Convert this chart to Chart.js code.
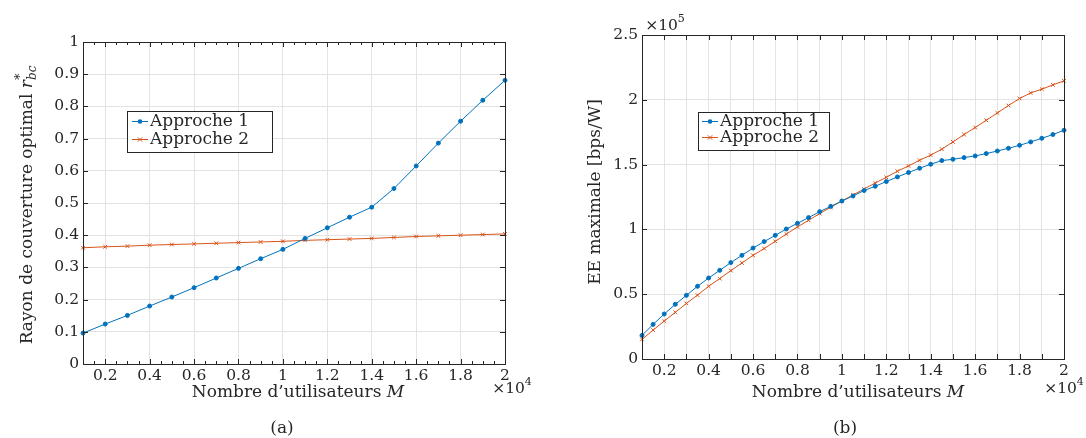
<!DOCTYPE html>
<html lang="fr">
<head>
<meta charset="UTF-8">
<title>Rayon de couverture optimal et EE maximale</title>
<script src="https://cdn.jsdelivr.net/npm/chart.js"></script>
<style>
  body { margin: 0; background: #fff; }
  #wrap { position: relative; width: 1086px; height: 438px; }
  canvas { position: absolute; top: 0; }
  #chartA { left: 0; }
  #chartB { left: 543px; }
</style>
</head>
<body>
<div id="wrap">
  <canvas id="chartA" width="543" height="438"></canvas>
  <canvas id="chartB" width="543" height="438"></canvas>
</div>
<script>
const BLUE = '#0072BD', ORANGE = '#D95319', INK = '#262626', GRID = '#e3e3e3';
const FONT = '"DejaVu Serif", serif';

const seriesNames = ['Approche 1', 'Approche 2'];

// (a) nombre d'utilisateurs (x10^4) -> rayon optimal
const usersA = [0.1, 0.2, 0.3, 0.4, 0.5, 0.6, 0.7, 0.8, 0.9, 1.0,
                1.1, 1.2, 1.3, 1.4, 1.5, 1.6, 1.7, 1.8, 1.9, 2.0];
const radius1 = [0.096, 0.124, 0.151, 0.180, 0.208, 0.237, 0.267, 0.297, 0.327, 0.356,
                 0.390, 0.423, 0.456, 0.487, 0.545, 0.615, 0.686, 0.754, 0.819, 0.881];
const radius2 = [0.361, 0.364, 0.366, 0.369, 0.371, 0.373, 0.375, 0.377, 0.379, 0.381,
                 0.384, 0.386, 0.388, 0.390, 0.393, 0.396, 0.398, 0.400, 0.402, 0.404];
const xTicksA = [0.2, 0.4, 0.6, 0.8, 1, 1.2, 1.4, 1.6, 1.8, 2];
const yTicksA = [0, 0.1, 0.2, 0.3, 0.4, 0.5, 0.6, 0.7, 0.8, 0.9, 1];

// (b) nombre d'utilisateurs (x10^4) -> EE maximale (x10^5 bps/W)
const usersB = [0.1, 0.15, 0.2, 0.25, 0.3, 0.35, 0.4, 0.45, 0.5, 0.55,
                0.6, 0.65, 0.7, 0.75, 0.8, 0.85, 0.9, 0.95, 1.0, 1.05,
                1.1, 1.15, 1.2, 1.25, 1.3, 1.35, 1.4, 1.45, 1.5, 1.55,
                1.6, 1.65, 1.7, 1.75, 1.8, 1.85, 1.9, 1.95, 2.0];
const ee1 = [0.182, 0.267, 0.347, 0.422, 0.491, 0.561, 0.625, 0.684, 0.744, 0.800,
             0.856, 0.906, 0.954, 1.003, 1.047, 1.091, 1.137, 1.178, 1.219, 1.258,
             1.300, 1.333, 1.369, 1.405, 1.439, 1.472, 1.503, 1.531, 1.541, 1.554,
             1.567, 1.585, 1.605, 1.626, 1.649, 1.675, 1.703, 1.732, 1.765];
const ee2 = [0.151, 0.223, 0.293, 0.360, 0.429, 0.493, 0.561, 0.620, 0.682, 0.741,
             0.800, 0.852, 0.908, 0.964, 1.019, 1.070, 1.122, 1.171, 1.219, 1.266,
             1.312, 1.358, 1.402, 1.449, 1.490, 1.534, 1.573, 1.619, 1.675, 1.732,
             1.786, 1.842, 1.899, 1.956, 2.010, 2.053, 2.082, 2.115, 2.146];
const xTicksB = [0.2, 0.3, 0.4, 0.5, 0.6, 0.7, 0.8, 0.9, 1, 1.1,
                 1.2, 1.3, 1.4, 1.5, 1.6, 1.7, 1.8, 1.9, 2];
const xLabelsB = ['0.2', '', '0.4', '', '0.6', '', '0.8', '', '1', '',
                  '1.2', '', '1.4', '', '1.6', '', '1.8', '', '2'];
const yTicksB = [0, 0.5, 1, 1.5, 2, 2.5];

function drawRich(ctx, parts, cx, cy, rot) {
  ctx.save();
  ctx.translate(cx, cy);
  if (rot) ctx.rotate(-Math.PI / 2);
  let total = 0;
  for (const p of parts) {
    ctx.font = p.font;
    p.w = ctx.measureText(p.text).width;
    if (!p.hold) total += p.w;
  }
  let x = -total / 2;
  ctx.textAlign = 'left';
  ctx.textBaseline = 'alphabetic';
  ctx.fillStyle = INK;
  for (const p of parts) {
    ctx.font = p.font;
    ctx.fillText(p.text, x, p.dy || 0);
    if (!p.hold) x += p.w;
  }
  ctx.restore();
}

function marker(ctx, style, color, x, y) {
  ctx.save();
  ctx.strokeStyle = color;
  ctx.fillStyle = color;
  ctx.lineWidth = 1;
  if (style === 'circle') {
    ctx.beginPath();
    ctx.arc(x, y, 2.3, 0, Math.PI * 2);
    ctx.fill();
  } else {
    ctx.beginPath();
    ctx.moveTo(x - 2.2, y - 2.2); ctx.lineTo(x + 2.2, y + 2.2);
    ctx.moveTo(x - 2.2, y + 2.2); ctx.lineTo(x + 2.2, y - 2.2);
    ctx.stroke();
  }
  ctx.restore();
}

// boite, graduations vers l'interieur, legende et textes
const decor = {
  id: 'decor',
  afterDraw(chart, args, o) {
    const { ctx, chartArea: a } = chart;
    const sx = chart.scales.x, sy = chart.scales.y;
    ctx.save();
    ctx.strokeStyle = INK;
    ctx.lineWidth = 1;
    ctx.beginPath();
    for (const v of o.xMajor) {
      const p = Math.round(sx.getPixelForValue(v)) + 0.5;
      ctx.moveTo(p, a.bottom); ctx.lineTo(p, a.bottom - 5);
      ctx.moveTo(p, a.top); ctx.lineTo(p, a.top + 5);
    }
    for (const v of o.xMinor) {
      const p = Math.round(sx.getPixelForValue(v)) + 0.5;
      ctx.moveTo(p, a.bottom); ctx.lineTo(p, a.bottom - 3);
      ctx.moveTo(p, a.top); ctx.lineTo(p, a.top + 3);
    }
    for (const v of o.yMajor) {
      const p = Math.round(sy.getPixelForValue(v)) + 0.5;
      ctx.moveTo(a.left, p); ctx.lineTo(a.left + 5, p);
      ctx.moveTo(a.right, p); ctx.lineTo(a.right - 5, p);
    }
    ctx.stroke();
    ctx.strokeRect(Math.round(a.left) + 0.5, Math.round(a.top) + 0.5,
                   Math.round(a.right - a.left), Math.round(a.bottom - a.top));

    const L = o.legend;
    ctx.fillStyle = '#fff';
    ctx.fillRect(L.x, L.y, L.w, L.h);
    ctx.strokeStyle = INK;
    ctx.strokeRect(L.x + 0.5, L.y + 0.5, L.w, L.h);
    chart.data.datasets.forEach((ds, i) => {
      const cy = L.rows[i];
      ctx.strokeStyle = ds.borderColor;
      ctx.beginPath();
      ctx.moveTo(L.lx0, cy + 0.5); ctx.lineTo(L.lx1, cy + 0.5);
      ctx.stroke();
      marker(ctx, ds.pointStyle, ds.borderColor, (L.lx0 + L.lx1) / 2, cy + 0.5);
      ctx.fillStyle = INK;
      ctx.font = '17px ' + FONT;
      ctx.textBaseline = 'middle';
      ctx.textAlign = 'left';
      ctx.fillText(ds.label, L.tx, cy + 1);
    });
    ctx.restore();

    for (const t of o.texts) drawRich(ctx, t.parts, t.x, t.y, t.rot);
  }
};

function lineSet(label, xs, ys, color, style) {
  return {
    label: label,
    data: xs.map((x, i) => ({ x: x, y: ys[i] })),
    borderColor: color,
    backgroundColor: color,
    borderWidth: 1,
    pointStyle: style,
    pointRadius: style === 'circle' ? 2 : 2.6,
    pointBorderWidth: 1,
    pointBackgroundColor: color,
    pointBorderColor: color,
    tension: 0,
    clip: false
  };
}

function makeChart(id, cfg) {
  return new Chart(document.getElementById(id), {
    type: 'line',
    data: { datasets: cfg.datasets },
    options: {
      responsive: false,
      animation: false,
      events: [],
      layout: { padding: cfg.padding },
      scales: {
        x: {
          type: 'linear',
          min: cfg.xMin, max: cfg.xMax,
          afterBuildTicks: s => { s.ticks = cfg.xTicks.map(v => ({ value: v })); },
          afterFit: s => { s.height = cfg.xHeight; },
          grid: { color: GRID, drawTicks: false },
          border: { display: false },
          ticks: {
            autoSkip: false, maxRotation: 0, padding: 3, color: INK,
            font: { family: FONT, size: 15.5 },
            callback: cfg.xLabel
          }
        },
        y: {
          type: 'linear',
          min: cfg.yMin, max: cfg.yMax,
          afterBuildTicks: s => { s.ticks = cfg.yTicks.map(v => ({ value: v })); },
          afterFit: s => { s.width = cfg.yWidth; },
          grid: { color: GRID, drawTicks: false },
          border: { display: false },
          ticks: {
            autoSkip: false, padding: 4, color: INK,
            font: { family: FONT, size: 15.5 },
            callback: v => String(v)
          }
        }
      },
      plugins: {
        legend: { display: false },
        tooltip: { enabled: false },
        decor: cfg.decor
      }
    },
    plugins: [decor]
  });
}

const F = size => size + 'px ' + FONT;
const FI = size => 'italic ' + size + 'px ' + FONT;

const minorA = [];
for (let v = 0.15; v < 2; v += 0.05) {
  if (Math.abs(v * 5 - Math.round(v * 5)) > 1e-6) minorA.push(v);
}

makeChart('chartA', {
  datasets: [
    lineSet(seriesNames[0], usersA, radius1, BLUE, 'circle'),
    lineSet(seriesNames[1], usersA, radius2, ORANGE, 'crossRot')
  ],
  padding: { left: 0, right: 38, top: 42, bottom: 0 },
  xMin: 0.1, xMax: 2, xTicks: xTicksA, xHeight: 74, xLabel: v => String(v),
  yMin: 0, yMax: 1, yTicks: yTicksA, yWidth: 83,
  decor: {
    xMajor: xTicksA, xMinor: minorA, yMajor: yTicksA,
    legend: { x: 127, y: 111, w: 145, h: 41, rows: [121, 139], lx0: 132, lx1: 148, tx: 150 },
    texts: [
      { x: 32, y: 205, rot: true, parts: [
        { text: 'Rayon de couverture optimal ', font: F(17) },
        { text: 'r', font: FI(17) },
        { text: '*', font: F(13), dy: -8, hold: true },
        { text: 'bc', font: FI(12), dy: 4 }
      ] },
      { x: 298, y: 397, parts: [
        { text: 'Nombre d’utilisateurs ', font: F(17) },
        { text: 'M', font: FI(17) }
      ] },
      { x: 512, y: 393, parts: [
        { text: '×10', font: F(15.5) },
        { text: '4', font: F(11), dy: -8 }
      ] },
      { x: 282, y: 433, parts: [{ text: '(a)', font: F(17) }] }
    ]
  }
});

makeChart('chartB', {
  datasets: [
    lineSet(seriesNames[0], usersB, ee1, BLUE, 'circle'),
    lineSet(seriesNames[1], usersB, ee2, ORANGE, 'crossRot')
  ],
  padding: { left: 0, right: 22, top: 35, bottom: 0 },
  xMin: 0.1, xMax: 2, xTicks: xTicksB, xHeight: 79, xLabel: (v, i) => xLabelsB[i],
  yMin: 0, yMax: 2.5, yTicks: yTicksB, yWidth: 99,
  decor: {
    xMajor: xTicksB, xMinor: [], yMajor: yTicksB,
    legend: { x: 155, y: 112, w: 131, h: 38, rows: [121, 137], lx0: 159, lx1: 175, tx: 177 },
    texts: [
      { x: 57, y: 192, rot: true, parts: [{ text: 'EE maximale [bps/W]', font: F(17) }] },
      { x: 315, y: 397, parts: [
        { text: 'Nombre d’utilisateurs ', font: F(17) },
        { text: 'M', font: FI(17) }
      ] },
      { x: 521, y: 393, parts: [
        { text: '×10', font: F(15.5) },
        { text: '4', font: F(11), dy: -8 }
      ] },
      { x: 122, y: 30, parts: [
        { text: '×10', font: F(15.5) },
        { text: '5', font: F(11), dy: -8 }
      ] },
      { x: 302, y: 433, parts: [{ text: '(b)', font: F(17) }] }
    ]
  }
});
</script>
</body>
</html>
